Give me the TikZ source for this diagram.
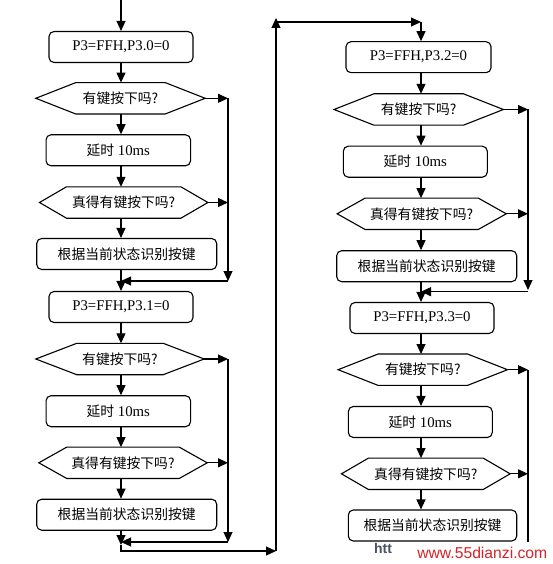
\documentclass[tikz,border=0pt]{standalone}
\usepackage{fontspec}
\setmainfont{Liberation Serif}
\newfontfamily\cjk{Noto Sans CJK SC}
\newfontfamily\wmfont{Liberation Sans}
\usetikzlibrary{arrows.meta}
\newcommand\cn{\cjk\fontsize{13.8}{16}\selectfont}
\newcommand\hexfrom[2]{\draw[ln] (#1.west) -- ([xshift=#2]#1.north west) -- ([xshift=-#2]#1.north east) -- (#1.east) -- ([xshift=-#2]#1.south east) -- ([xshift=#2]#1.south west) -- cycle;}
\tikzset{
  ln/.style={line width=1.1pt, line join=miter},
  proc/.style={draw, line width=1.1pt, rounded corners=5pt, minimum width=#1, minimum height=31pt, inner sep=0pt},
  hexa/.style={minimum width=#1, minimum height=31pt, inner sep=0pt},
  arr/.style={line width=1.1pt, -{Triangle[length=10pt,width=9pt]}},
  every node/.style={font=\fontsize{14.8}{17}\selectfont}
}
\begin{document}
\begin{tikzpicture}[x=1pt,y=-1pt]
\useasboundingbox (0,0) rectangle (552,564);
\fill[white] (0,0) rectangle (552,564);
\coordinate (colL) at (121,0);
\coordinate (colR) at (421,0);
\coordinate (loopL) at (228,0);
\coordinate (loopR) at (528,0);
% left column
\node[proc=144pt] (b1) at (121,47) {P3=FFH,P3.0=0};
\node[hexa=169pt] (h1) at (120.5,98.3) {\cn 有键按下吗?};
\node[proc=144.5pt] (b2) at (118.3,150.3) {{\cn 延时}\ 10ms};
\node[hexa=168pt] (h2) at (123.7,202.5) {\cn 真得有键按下吗?};
\node[proc=180pt] (b3) at (126.7,254) {\cn 根据当前状态识别按键};
\node[proc=144pt] (b4) at (121,307) {P3=FFH,P3.1=0};
\node[hexa=168pt] (h3) at (120,359) {\cn 有键按下吗?};
\node[proc=144.5pt] (b5) at (118.3,411.2) {{\cn 延时}\ 10ms};
\node[hexa=168pt] (h4) at (123,462.8) {\cn 真得有键按下吗?};
\node[proc=180pt] (b6) at (126.7,514.7) {\cn 根据当前状态识别按键};
% right column
\node[proc=145pt] (b7) at (418.5,57.2) {P3=FFH,P3.2=0};
\node[hexa=169pt] (h5) at (418.7,109.5) {\cn 有键按下吗?};
\node[proc=144pt] (b8) at (415.3,161.7) {{\cn 延时}\ 10ms};
\node[hexa=168.7pt] (h6) at (421.7,213.8) {\cn 真得有键按下吗?};
\node[proc=180pt] (b9) at (426.7,266.2) {\cn 根据当前状态识别按键};
\node[proc=144pt] (b10) at (422,318) {P3=FFH,P3.3=0};
\node[hexa=169pt] (h7) at (422.8,369.7) {\cn 有键按下吗?};
\node[proc=144pt] (b11) at (420.3,422) {{\cn 延时}\ 10ms};
\node[hexa=168.3pt] (h8) at (425.8,473.8) {\cn 真得有键按下吗?};
\node[proc=168.4pt] (b12) at (432.5,525.5) {\cn 根据当前状态识别按键};
% hexagon outlines
\hexfrom{h1}{40}
\hexfrom{h2}{27}
\hexfrom{h3}{41}
\hexfrom{h4}{28}
\hexfrom{h5}{40}
\hexfrom{h6}{28}
\hexfrom{h7}{40}
\hexfrom{h8}{27}
% coordinates for junctions
\coordinate (start) at (121,0);
\coordinate (jL1) at (228,281);
\coordinate (kL1) at (121,281);
\coordinate (jL2) at (228,542);
\coordinate (kL2) at (121,542);
\coordinate (j6) at (121,545);
\coordinate (c1) at (276,551);
\coordinate (c2) at (276,18);
\coordinate (c3) at (276,22);
\coordinate (c4) at (421,22);
\coordinate (jR1) at (528,290);
\coordinate (sR1) at (528,291.7);
\coordinate (kR1) at (421,291.7);
\coordinate (eR2) at (528,542);
% main flow left
\draw[arr] (start) -- (b1.north -| colL);
\draw[arr] (b1.south -| colL) -- (h1.north -| colL);
\draw[arr] (h1.south -| colL) -- (b2.north -| colL);
\draw[arr] (b2.south -| colL) -- (h2.north -| colL);
\draw[arr] (h2.south -| colL) -- (b3.north -| colL);
\draw[arr] (b3.south -| colL) -- (b4.north -| colL);
\draw[arr] (b4.south -| colL) -- (h3.north -| colL);
\draw[arr] (h3.south -| colL) -- (b5.north -| colL);
\draw[arr] (b5.south -| colL) -- (h4.north -| colL);
\draw[arr] (h4.south -| colL) -- (b6.north -| colL);
\draw[arr] (b6.south -| colL) -- (j6);
% left loops
\draw[arr] (h1.east) -- (h1.east -| loopL);
\draw[arr] (h2.east) -- (h2.east -| loopL);
\draw[arr] (h1.east -| loopL) -- (jL1);
\draw[arr] (jL1) -- (kL1);
\draw[arr] (h3.east) -- (h3.east -| loopL);
\draw[arr] (h4.east) -- (h4.east -| loopL);
\draw[arr] (h3.east -| loopL) -- (jL2);
\draw[arr] (jL2) -- (kL2);
% connection to right column
\draw[arr] (j6) |- (c1);
\draw[arr] (c1) -- (c2);
\draw[arr] (c3) -- (c4);
\draw[arr] (c4) -- (b7.north -| colR);
% main flow right
\draw[arr] (b7.south -| colR) -- (h5.north -| colR);
\draw[arr] (h5.south -| colR) -- (b8.north -| colR);
\draw[arr] (b8.south -| colR) -- (h6.north -| colR);
\draw[arr] (h6.south -| colR) -- (b9.north -| colR);
\draw[arr] (b9.south -| colR) -- (b10.north -| colR);
\draw[arr] (b10.south -| colR) -- (h7.north -| colR);
\draw[arr] (h7.south -| colR) -- (b11.north -| colR);
\draw[arr] (b11.south -| colR) -- (h8.north -| colR);
\draw[arr] (h8.south -| colR) -- (b12.north -| colR);
% right loops
\draw[arr] (h5.east) -- (h5.east -| loopR);
\draw[arr] (h6.east) -- (h6.east -| loopR);
\draw[arr] (h5.east -| loopR) -- (jR1);
\draw[arr] (sR1) -- (kR1);
\draw[arr] (h7.east) -- (h7.east -| loopR);
\draw[arr] (h8.east) -- (h8.east -| loopR);
\draw[ln] (h7.east -| loopR) -- (eR2);
% watermark
\node[font=\wmfont\bfseries\fontsize{14}{16}\selectfont, text={rgb,255:red,75;green,80;blue,100}, inner sep=0pt] (wm1) at (383,548) {htt};
\node[font=\wmfont\fontsize{15.7}{18}\selectfont, text={rgb,255:red,215;green,35;blue,40}, inner sep=0pt] (wm2) at (482.3,553) {www.55dianzi.com};
\end{tikzpicture}
\end{document}
